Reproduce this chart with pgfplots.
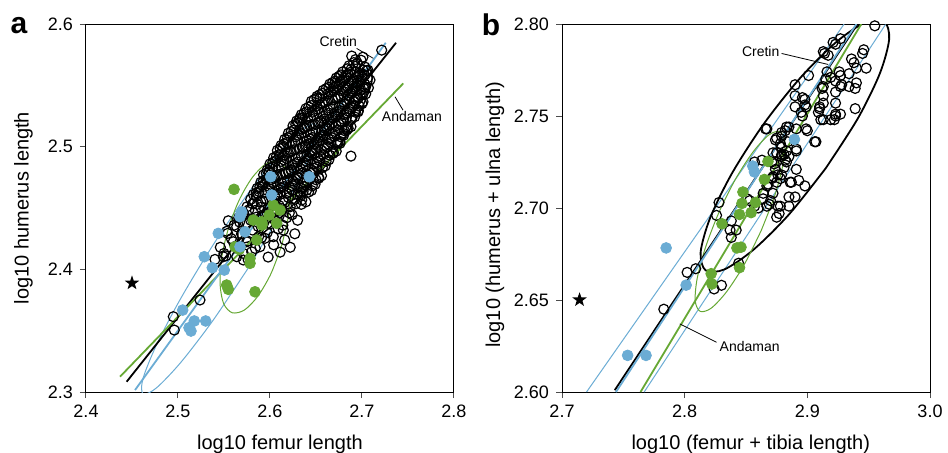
\documentclass[border=0pt]{standalone}
\usepackage{pgfplots}
\pgfplotsset{compat=1.18}
\usepackage{fontspec}
\setmainfont{Liberation Sans}

\definecolor{cblue}{RGB}{107,172,212}
\definecolor{cgreen}{RGB}{102,168,52}

% filled five-pointed star
\pgfdeclareplotmark{fstar}{%
  \pgfpathmoveto{\pgfpointpolar{90}{\pgfplotmarksize}}%
  \pgfpathlineto{\pgfpointpolar{126}{0.40\pgfplotmarksize}}%
  \pgfpathlineto{\pgfpointpolar{162}{\pgfplotmarksize}}%
  \pgfpathlineto{\pgfpointpolar{198}{0.40\pgfplotmarksize}}%
  \pgfpathlineto{\pgfpointpolar{234}{\pgfplotmarksize}}%
  \pgfpathlineto{\pgfpointpolar{270}{0.40\pgfplotmarksize}}%
  \pgfpathlineto{\pgfpointpolar{306}{\pgfplotmarksize}}%
  \pgfpathlineto{\pgfpointpolar{342}{0.40\pgfplotmarksize}}%
  \pgfpathlineto{\pgfpointpolar{18}{\pgfplotmarksize}}%
  \pgfpathlineto{\pgfpointpolar{54}{0.40\pgfplotmarksize}}%
  \pgfpathclose
  \pgfusepathqfill}

\pgfplotsset{
  panel/.style={
    scale only axis, width=184pt, height=184pt,
    axis line style={black, line width=0.5pt},
    tick align=outside, tick pos=left,
    major tick length=3pt,
    major tick style={black!70, line width=0.5pt},
    tick label style={font=\fontsize{9}{10}\selectfont},
    label style={font=\fontsize{10}{12}\selectfont},
    /pgf/number format/assume math mode=true,
    /pgf/number format/fixed,
  },
  opn/.style={only marks, mark=o, black, mark size=2.5pt, line width=0.6pt},
  fld/.style={only marks, mark=*, mark size=2.7pt},
}

\pgfplotstableread{
x y
2.552 2.411
2.571 2.413
2.598 2.410
2.611 2.414
2.546 2.418
2.563 2.419
2.584 2.417
2.604 2.420
2.622 2.418
2.558 2.425
2.576 2.423
2.591 2.426
2.616 2.424
2.553 2.431
2.569 2.429
2.581 2.432
2.597 2.430
2.609 2.433
2.627 2.429
2.561 2.436
2.575 2.438
2.587 2.435
2.600 2.437
2.614 2.436
2.566 2.442
2.579 2.440
2.591 2.443
2.604 2.441
2.618 2.442
2.630 2.440
2.571 2.446
2.584 2.448
2.595 2.445
2.607 2.447
2.621 2.446
2.575 2.451
2.586 2.453
2.598 2.450
2.610 2.452
2.622 2.451
2.634 2.453
2.579 2.457
2.590 2.455
2.602 2.458
2.614 2.456
2.627 2.457
2.639 2.455
2.582 2.461
2.594 2.463
2.605 2.460
2.618 2.462
2.630 2.461
2.642 2.463
2.586 2.466
2.598 2.468
2.609 2.465
2.621 2.467
2.634 2.466
2.646 2.468
2.590 2.471
2.601 2.473
2.613 2.470
2.625 2.472
2.637 2.471
2.650 2.473
2.593 2.477
2.605 2.475
2.617 2.478
2.629 2.476
2.641 2.477
2.653 2.475
2.597 2.481
2.609 2.483
2.620 2.480
2.633 2.482
2.645 2.481
2.657 2.483
2.600 2.486
2.612 2.488
2.624 2.485
2.636 2.487
2.648 2.486
2.661 2.488
2.604 2.491
2.616 2.493
2.628 2.490
2.640 2.492
2.652 2.491
2.665 2.493
2.608 2.497
2.620 2.495
2.632 2.498
2.644 2.496
2.656 2.497
2.669 2.495
2.612 2.501
2.624 2.503
2.636 2.500
2.648 2.502
2.660 2.501
2.673 2.503
2.616 2.506
2.628 2.508
2.640 2.505
2.652 2.507
2.664 2.506
2.677 2.508
2.620 2.511
2.632 2.513
2.644 2.510
2.656 2.512
2.668 2.511
2.681 2.513
2.625 2.517
2.637 2.515
2.649 2.518
2.661 2.516
2.672 2.517
2.685 2.515
2.629 2.521
2.641 2.523
2.653 2.520
2.665 2.522
2.677 2.521
2.689 2.523
2.634 2.526
2.646 2.528
2.658 2.525
2.670 2.527
2.681 2.526
2.693 2.528
2.639 2.531
2.651 2.533
2.663 2.530
2.675 2.532
2.686 2.531
2.697 2.533
2.645 2.537
2.657 2.535
2.668 2.538
2.680 2.536
2.691 2.537
2.700 2.535
2.651 2.541
2.663 2.543
2.674 2.540
2.685 2.542
2.695 2.541
2.704 2.543
2.658 2.546
2.669 2.548
2.680 2.545
2.690 2.547
2.699 2.546
2.707 2.548
2.665 2.551
2.676 2.553
2.686 2.550
2.695 2.552
2.703 2.551
2.672 2.556
2.682 2.558
2.691 2.555
2.700 2.557
2.706 2.556
2.679 2.561
2.688 2.563
2.697 2.560
2.705 2.562
2.686 2.566
2.695 2.568
2.703 2.565
2.693 2.571
2.701 2.573
2.567 2.4385
2.581 2.4405
2.593 2.4375
2.606 2.4395
2.572 2.4445
2.585 2.4425
2.597 2.4455
2.610 2.4435
2.624 2.4445
2.577 2.4485
2.590 2.4505
2.601 2.4475
2.613 2.4495
2.581 2.4535
2.592 2.4555
2.604 2.4525
2.616 2.4545
2.628 2.4535
2.585 2.4595
2.596 2.4575
2.608 2.4605
2.620 2.4585
2.633 2.4595
2.588 2.4635
2.600 2.4655
2.611 2.4625
2.624 2.4645
2.636 2.4635
2.592 2.4685
2.604 2.4705
2.615 2.4675
2.627 2.4695
2.640 2.4685
2.596 2.4735
2.607 2.4755
2.619 2.4725
2.631 2.4745
2.643 2.4735
2.599 2.4795
2.611 2.4775
2.623 2.4805
2.635 2.4785
2.647 2.4795
2.603 2.4835
2.615 2.4855
2.626 2.4825
2.639 2.4845
2.651 2.4835
2.606 2.4885
2.618 2.4905
2.630 2.4875
2.642 2.4895
2.654 2.4885
2.610 2.4935
2.622 2.4955
2.634 2.4925
2.646 2.4945
2.658 2.4935
2.614 2.4995
2.626 2.4975
2.638 2.5005
2.650 2.4985
2.662 2.4995
2.618 2.5035
2.630 2.5055
2.642 2.5025
2.654 2.5045
2.666 2.5035
2.622 2.5085
2.634 2.5105
2.646 2.5075
2.658 2.5095
2.670 2.5085
2.626 2.5135
2.638 2.5155
2.650 2.5125
2.662 2.5145
2.674 2.5135
2.631 2.5195
2.643 2.5175
2.655 2.5205
2.667 2.5185
2.678 2.5195
2.635 2.5235
2.647 2.5255
2.659 2.5225
2.671 2.5245
2.683 2.5235
2.640 2.5285
2.652 2.5305
2.664 2.5275
2.676 2.5295
2.687 2.5285
2.645 2.5335
2.657 2.5355
2.669 2.5325
2.681 2.5345
2.691 2.5335
2.651 2.5395
2.663 2.5375
2.674 2.5405
2.686 2.5385
2.696 2.5395
2.657 2.5435
2.669 2.5455
2.680 2.5425
2.690 2.5445
2.700 2.5435
2.664 2.5485
2.675 2.5505
2.685 2.5475
2.695 2.5495
2.703 2.5485
2.671 2.5535
2.681 2.5555
2.691 2.5525
2.699 2.5545
2.677 2.5585
2.687 2.5605
2.696 2.5575
2.684 2.5635
2.693 2.5655
2.701 2.5625
2.691 2.5685
2.699 2.5705
2.585 2.4623
2.597 2.4643
2.608 2.4613
2.621 2.4633
2.633 2.4623
2.645 2.4643
2.589 2.4673
2.601 2.4693
2.612 2.4663
2.624 2.4683
2.637 2.4673
2.649 2.4693
2.593 2.4723
2.604 2.4743
2.616 2.4713
2.628 2.4733
2.640 2.4723
2.653 2.4743
2.596 2.4783
2.608 2.4763
2.620 2.4793
2.632 2.4773
2.644 2.4783
2.656 2.4763
2.600 2.4823
2.612 2.4843
2.623 2.4813
2.636 2.4833
2.648 2.4823
2.660 2.4843
2.603 2.4873
2.615 2.4893
2.627 2.4863
2.639 2.4883
2.651 2.4873
2.664 2.4893
2.607 2.4923
2.619 2.4943
2.631 2.4913
2.643 2.4933
2.655 2.4923
2.668 2.4943
2.611 2.4983
2.623 2.4963
2.635 2.4993
2.647 2.4973
2.659 2.4983
2.672 2.4963
2.615 2.5023
2.627 2.5043
2.639 2.5013
2.651 2.5033
2.663 2.5023
2.676 2.5043
2.619 2.5073
2.631 2.5093
2.643 2.5063
2.655 2.5083
2.667 2.5073
2.680 2.5093
2.623 2.5123
2.635 2.5143
2.647 2.5113
2.659 2.5133
2.671 2.5123
2.684 2.5143
2.628 2.5183
2.640 2.5163
2.652 2.5193
2.664 2.5173
2.675 2.5183
2.688 2.5163
2.632 2.5223
2.644 2.5243
2.656 2.5213
2.668 2.5233
2.680 2.5223
2.692 2.5243
2.637 2.5273
2.649 2.5293
2.661 2.5263
2.673 2.5283
2.684 2.5273
2.696 2.5293
2.642 2.5323
2.654 2.5343
2.666 2.5313
2.678 2.5333
2.689 2.5323
2.648 2.5383
2.660 2.5363
2.671 2.5393
2.683 2.5373
2.694 2.5383
2.654 2.5423
2.666 2.5443
2.677 2.5413
2.688 2.5433
2.698 2.5423
2.661 2.5473
2.672 2.5493
2.683 2.5463
2.693 2.5483
2.702 2.5473
2.668 2.5523
2.679 2.5543
2.689 2.5513
2.698 2.5533
2.675 2.5573
2.685 2.5593
2.694 2.5563
2.703 2.5583
2.6543 2.5394
2.6326 2.5233
2.6707 2.5518
2.6924 2.5610
2.7065 2.5624
2.7087 2.5543
2.7011 2.5366
2.6957 2.5284
2.6834 2.5135
2.6739 2.5029
2.4949 2.3614
2.4960 2.3505
2.5239 2.3750
2.5402 2.4081
2.5547 2.4396
2.5638 2.4347
2.5601 2.4225
2.5492 2.4103
2.5747 2.4225
2.5946 2.4253
2.6036 2.4266
2.6145 2.4320
2.5891 2.4184
2.5801 2.4143
2.5710 2.4076
2.5540 2.4293
2.5500 2.4130
2.5764 2.4076
2.5638 2.4103
2.5877 2.4266
2.6345 2.4565
2.6399 2.4646
2.6761 2.5027
2.6797 2.5108
2.6888 2.5739
2.6880 2.4923
2.7214 2.5787
}\blackA

\pgfplotstableread{
x y
2.6008 2.4755
2.6018 2.4606
2.5692 2.4469
2.5674 2.4429
2.5728 2.4306
2.5674 2.4184
2.5438 2.4293
2.5286 2.4103
2.5373 2.4013
2.5503 2.3994
2.5051 2.3668
2.5177 2.3579
2.5301 2.3579
2.5120 2.3524
2.5141 2.3497
2.6427 2.4755
}\blueA

\pgfplotstableread{
x y
2.5609 2.4652
2.6036 2.4524
2.6109 2.4483
2.5992 2.4443
2.5910 2.4388
2.6073 2.4375
2.5818 2.4402
2.5620 2.4184
2.5855 2.4239
2.5666 2.4163
2.5783 2.4090
2.5783 2.4049
2.5529 2.3872
2.5547 2.3837
2.5837 2.3817
2.5913 2.4361
}\greenA

\pgfplotstableread{
x y
2.955 2.799
2.927 2.792
2.921 2.790
2.913 2.785
2.917 2.783
2.946 2.786
2.945 2.784
2.936 2.781
2.938 2.779
2.948 2.776
2.901 2.772
2.916 2.774
2.919 2.771
2.927 2.772
2.934 2.773
2.940 2.768
2.934 2.766
2.927 2.766
2.923 2.763
2.939 2.765
2.912 2.765
2.890 2.767
2.890 2.761
2.896 2.760
2.890 2.755
2.898 2.756
2.895 2.752
2.910 2.755
2.913 2.757
2.909 2.752
2.913 2.748
2.919 2.748
2.923 2.750
2.923 2.757
2.900 2.742
2.891 2.743
2.882 2.742
2.885 2.744
2.879 2.739
2.874 2.737
2.878 2.735
2.867 2.743
2.906 2.736
2.891 2.731
2.881 2.729
2.882 2.726
2.883 2.725
2.879 2.729
2.875 2.730
2.871 2.725
2.863 2.726
2.857 2.725
2.874 2.721
2.876 2.718
2.878 2.716
2.871 2.716
2.867 2.712
2.872 2.708
2.886 2.714
2.893 2.715
2.898 2.712
2.890 2.706
2.870 2.704
2.867 2.701
2.860 2.700
2.853 2.704
2.851 2.705
2.878 2.701
2.885 2.701
2.875 2.695
2.828 2.703
2.826 2.696
2.837 2.688
2.838 2.684
2.842 2.688
2.802 2.665
2.809 2.667
2.844 2.670
2.783 2.645
2.824 2.656
2.830 2.658
2.923 2.789
2.914 2.784
2.940 2.776
2.926 2.774
2.915 2.770
2.913 2.766
2.923 2.769
2.928 2.767
2.913 2.761
2.898 2.759
2.899 2.755
2.896 2.750
2.910 2.754
2.911 2.748
2.922 2.748
2.923 2.751
2.866 2.743
2.883 2.744
2.879 2.741
2.899 2.743
2.907 2.736
2.875 2.738
2.884 2.736
2.879 2.733
2.883 2.731
2.891 2.732
2.879 2.728
2.872 2.730
2.885 2.728
2.873 2.724
2.881 2.722
2.891 2.721
2.879 2.718
2.872 2.717
2.875 2.714
2.868 2.713
2.864 2.708
2.887 2.714
2.885 2.706
2.864 2.705
2.869 2.702
2.876 2.701
2.857 2.701
2.877 2.697
2.838 2.693
2.939 2.754
2.927 2.751
}\blackB

\pgfplotstableread{
x y
2.7849 2.6783
2.8012 2.6581
2.7535 2.6199
2.7685 2.6199
2.8555 2.7228
2.8569 2.7196
2.8895 2.7373
}\blueB

\pgfplotstableread{
x y
2.8679 2.7253
2.8650 2.7155
2.8475 2.7087
2.8577 2.7030
2.8467 2.7025
2.8542 2.6975
2.8447 2.6965
2.8304 2.6914
2.8426 2.6783
2.8459 2.6787
2.8447 2.6676
2.8216 2.6643
2.8222 2.6587
}\greenB

\begin{document}
\begin{tikzpicture}
\useasboundingbox (-43pt,-30pt) rectangle (431pt,196pt);

% ---------------- panel a ----------------
\begin{axis}[panel,
    xmin=2.4, xmax=2.8, ymin=2.3, ymax=2.6,
    xtick={2.4,2.5,2.6,2.7,2.8}, ytick={2.3,2.4,2.5,2.6},
    xlabel={log10 femur length},
    ylabel={log10 humerus length},
    xlabel style={at={(axis description cs:0.527,0)}, anchor=base, yshift=-28.75pt},
    ylabel style={at={(axis description cs:-0.17,0.5)}, anchor=center},
]
\addplot[opn] table {\blackA};
% black ellipse
\addplot[black, line width=0.7pt, smooth] coordinates {
 (2.6572,2.4815) (2.6287,2.4555) (2.6015,2.4351) (2.5800,2.4234) (2.5674,2.4222)
 (2.5654,2.4317) (2.5746,2.4504) (2.5933,2.4755) (2.6189,2.5032) (2.6474,2.5292)
 (2.6746,2.5496) (2.6961,2.5613) (2.7087,2.5624) (2.7107,2.5530) (2.7015,2.5342)
 (2.6828,2.5091) (2.6572,2.4815)};
% blue ellipse
\addplot[cblue, line width=0.5pt, smooth] coordinates {
 (2.5747,2.3992) (2.5375,2.3578) (2.5030,2.3241) (2.4765,2.3033) (2.4621,2.2984)
 (2.4617,2.3103) (2.4759,2.3372) (2.5018,2.3747) (2.5362,2.4176) (2.5734,2.4590)
 (2.6078,2.4927) (2.6343,2.5135) (2.6488,2.5184) (2.6491,2.5065) (2.6350,2.4796)
 (2.6090,2.4421) (2.5747,2.3992)};
% green ellipse
\addplot[cgreen, line width=0.5pt, smooth] coordinates {
 (2.6128,2.4198) (2.6012,2.3967) (2.5868,2.3781) (2.5721,2.3668) (2.5590,2.3646)
 (2.5497,2.3719) (2.5458,2.3874) (2.5473,2.4087) (2.5546,2.4328) (2.5662,2.4560)
 (2.5805,2.4746) (2.5953,2.4858) (2.6084,2.4880) (2.6177,2.4808) (2.6216,2.4653)
 (2.6201,2.4439) (2.6128,2.4198)};
\addplot[fld, cgreen] table {\greenA};
\addplot[fld, cblue] table {\blueA};
% regression lines
\addplot[black, line width=0.9pt] coordinates {(2.4442,2.3084) (2.7370,2.5847)};
\addplot[cgreen, line width=0.9pt] coordinates {(2.4370,2.3125) (2.7449,2.5516)};
\addplot[cblue, line width=0.9pt] coordinates {(2.4533,2.3016) (2.7258,2.5847)};
% star
\addplot[only marks, mark=fstar, mark size=3.8pt, black] coordinates {(2.450,2.3888)};
% labels
\addplot[black, line width=0.4pt] coordinates {(2.6942,2.5801) (2.7123,2.5720)};
\addplot[black, line width=0.4pt] coordinates {(2.7359,2.5407) (2.7446,2.5298)};
\node[font=\fontsize{7}{8}\selectfont] at (axis cs:2.6742,2.5855) {Cretin};
\node[font=\fontsize{7}{8}\selectfont] at (axis cs:2.7543,2.5244) {Andaman};
\end{axis}

% ---------------- panel b ----------------
\begin{axis}[panel, at={(238pt,0pt)},
    xmin=2.7, xmax=3.0, ymin=2.6, ymax=2.8,
    xtick={2.7,2.8,2.9,3.0}, ytick={2.60,2.65,2.70,2.75,2.80},
    xticklabel style={/pgf/number format/fixed zerofill, /pgf/number format/precision=1},
    yticklabel style={/pgf/number format/fixed zerofill, /pgf/number format/precision=2},
    xlabel={log10 (femur + tibia length)},
    ylabel={log10 (humerus + ulna length)},
    xlabel style={at={(axis description cs:0.513,0)}, anchor=base, yshift=-28.75pt},
    ylabel style={at={(axis description cs:-0.182,0.482)}, anchor=center},
]
\addplot[opn] table {\blackB};
% blue bands
\addplot[cblue, line width=0.5pt] coordinates {(2.720,2.600) (2.930,2.800)};
\addplot[cblue, line width=0.5pt] coordinates {(2.767,2.600) (2.964,2.800)};
% black ellipse
\addplot[black, line width=0.9pt, smooth] coordinates {
 (2.9151,2.7217) (2.8853,2.6967) (2.8562,2.6774) (2.8323,2.6666) (2.8171,2.6661)
 (2.8130,2.6759) (2.8207,2.6945) (2.8387,2.7190) (2.8647,2.7459) (2.8945,2.7709)
 (2.9236,2.7902) (2.9475,2.8010) (2.9627,2.8015) (2.9667,2.7917) (2.9591,2.7731)
 (2.9411,2.7486) (2.9151,2.7217)};
% green ellipse
\addplot[cgreen, line width=0.5pt, smooth] coordinates {
 (2.8623,2.6876) (2.8486,2.6693) (2.8343,2.6546) (2.8217,2.6456) (2.8127,2.6438)
 (2.8086,2.6495) (2.8102,2.6617) (2.8170,2.6786) (2.8280,2.6977) (2.8417,2.7160)
 (2.8560,2.7307) (2.8686,2.7397) (2.8776,2.7415) (2.8817,2.7358) (2.8801,2.7236)
 (2.8734,2.7067) (2.8623,2.6876)};
\addplot[fld, cgreen] table {\greenB};
\addplot[fld, cblue] table {\blueB};
% regression lines
\addplot[black, line width=0.9pt] coordinates {(2.743,2.601) (2.941,2.800)};
\addplot[cgreen, line width=0.9pt] coordinates {(2.764,2.600) (2.944,2.800)};
\addplot[cblue, line width=0.9pt] coordinates {(2.744,2.600) (2.940,2.800)};
% star
\addplot[only marks, mark=fstar, mark size=3.8pt, black] coordinates {(2.7143,2.6501)};
% labels
\addplot[black, line width=0.4pt] coordinates {(2.879,2.784) (2.917,2.778)};
\addplot[black, line width=0.4pt] coordinates {(2.826,2.627) (2.796,2.637)};
\node[font=\fontsize{7}{8}\selectfont] at (axis cs:2.862,2.785) {Cretin};
\node[font=\fontsize{7}{8}\selectfont] at (axis cs:2.853,2.625) {Andaman};
\end{axis}

\node[font=\bfseries\fontsize{15}{15}\selectfont, anchor=base] at (-33.5pt,179.5pt) {a};
\node[font=\bfseries\fontsize{15}{15}\selectfont, anchor=base] at (202.5pt,178.5pt) {b};
\end{tikzpicture}
\end{document}
